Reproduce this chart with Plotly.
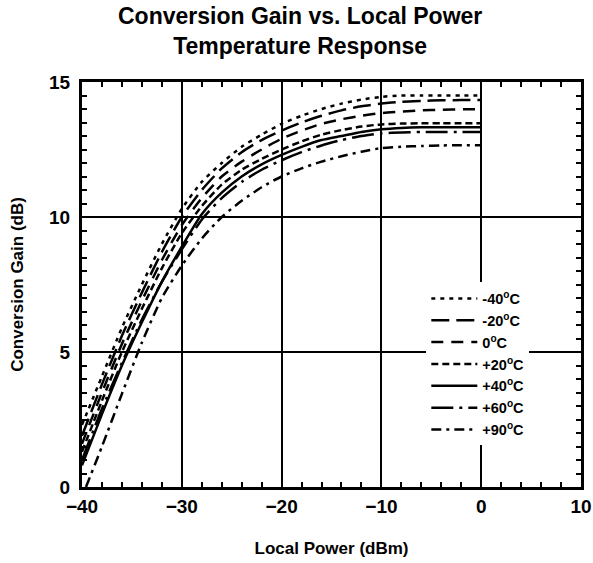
import plotly.graph_objects as go

power = [-40, -38, -36, -34, -32, -30, -28, -26, -24, -22, -20, -18, -16, -14, -12, -10, -8, -6, -4, -2, 0]
power_90 = [-39.6, -38, -36, -34, -32, -30, -28, -26, -24, -22, -20, -18, -16, -14, -12, -10, -8, -6, -4, -2, 0]

gain_m40 = [2.3, 4.1, 5.9, 7.5, 9.0, 10.3, 11.3, 12.0, 12.6, 13.05, 13.45, 13.75, 14.0, 14.2, 14.35, 14.45, 14.5, 14.5, 14.5, 14.5, 14.5]
gain_m20 = [1.9, 3.8, 5.6, 7.2, 8.7, 10.0, 11.0, 11.8, 12.4, 12.85, 13.2, 13.5, 13.75, 13.95, 14.1, 14.2, 14.27, 14.3, 14.32, 14.33, 14.33]
gain_0 = [1.6, 3.5, 5.3, 6.9, 8.4, 9.7, 10.7, 11.5, 12.05, 12.5, 12.9, 13.2, 13.45, 13.62, 13.75, 13.85, 13.9, 13.95, 13.97, 13.99, 13.99]
gain_p20 = [1.3, 3.2, 5.0, 6.6, 8.1, 9.4, 10.4, 11.2, 11.75, 12.15, 12.5, 12.8, 13.05, 13.22, 13.35, 13.43, 13.46, 13.47, 13.47, 13.47, 13.47]
gain_p40 = [0.8, 2.7, 4.5, 6.1, 7.6, 8.9, 10.1, 10.9, 11.5, 11.95, 12.3, 12.6, 12.85, 13.0, 13.15, 13.25, 13.3, 13.32, 13.32, 13.32, 13.32]
gain_p60 = [1.0, 2.9, 4.6, 6.2, 7.6, 8.8, 9.9, 10.7, 11.3, 11.75, 12.1, 12.4, 12.65, 12.85, 13.0, 13.1, 13.13, 13.15, 13.15, 13.15, 13.15]
gain_p90 = [0.0, 1.5, 3.45, 5.35, 7.0, 8.2, 9.2, 10.0, 10.6, 11.1, 11.5, 11.8, 12.05, 12.25, 12.42, 12.55, 12.6, 12.63, 12.65, 12.66, 12.66]

labels = ["-40<sup>o</sup>C", "-20<sup>o</sup>C", "0<sup>o</sup>C", "+20<sup>o</sup>C",
          "+40<sup>o</sup>C", "+60<sup>o</sup>C", "+90<sup>o</sup>C"]

series = [
    (power, gain_m40, "4px,5px"),
    (power, gain_m20, "18px,7px"),
    (power, gain_0, "12px,8px"),
    (power, gain_p20, "7px,4px"),
    (power, gain_p40, "solid"),
    (power, gain_p60, "22px,6px,3px,6px"),
    (power_90, gain_p90, "10px,5px,3px,5px"),
]

FONT = "Arial, 'Liberation Sans', sans-serif"

fig = go.Figure()
for (xs, ys, dash), name in zip(series, labels):
    fig.add_trace(go.Scatter(
        x=xs, y=ys, mode="lines", name=name,
        line=dict(color="black", width=2.5, dash=dash, shape="spline", smoothing=0.6),
    ))

axis_common = dict(
    showline=True, linecolor="black", linewidth=3, mirror="allticks",
    showgrid=True, gridcolor="black", gridwidth=2,
    ticks="inside", ticklen=5, tickwidth=2, tickcolor="black",
    zeroline=False, automargin=False,
    tickfont=dict(family=FONT, size=19, color="black", weight="bold"),
)

fig.update_xaxes(
    range=[-40, 10], dtick=10, tick0=-40,
    title=dict(text="<b>Local Power (dBm)</b>", font=dict(family=FONT, size=17, color="black"), standoff=27),
    minor=dict(dtick=2, ticks="inside", ticklen=5, tickwidth=2, tickcolor="black", showgrid=False),
    **axis_common,
)
fig.update_yaxes(
    range=[0, 15], dtick=5, tick0=0,
    title=dict(text="<b>Conversion Gain (dB)</b>", font=dict(family=FONT, size=17, color="black"), standoff=22),
    minor=dict(dtick=0.5, ticks="inside", ticklen=5, tickwidth=2, tickcolor="black", showgrid=False),
    ticklabelstandoff=5,
    **axis_common,
)

fig.add_annotation(
    text="<b>Conversion Gain vs. Local Power<br>Temperature Response</b>",
    xref="paper", yref="paper", x=(300 - 82) / 499, y=1 + 21 / 405,
    xanchor="center", yanchor="bottom", showarrow=False,
    font=dict(family=FONT, size=23, color="black"),
)

fig.update_layout(
    width=593, height=563,
    margin=dict(l=82, r=12, t=82, b=76),
    paper_bgcolor="white", plot_bgcolor="white",
    legend=dict(
        x=0.69, y=0.505, xanchor="left", yanchor="top",
        bgcolor="white", borderwidth=0, itemwidth=46,
        font=dict(family=FONT, size=14.5, color="black", weight="bold"),
        tracegroupgap=0,
    ),
    showlegend=True,
)

fig.write_html("out.html", config={"displayModeBar": False},
               post_script="document.body.style.margin='0';document.body.style.overflow='hidden';")
